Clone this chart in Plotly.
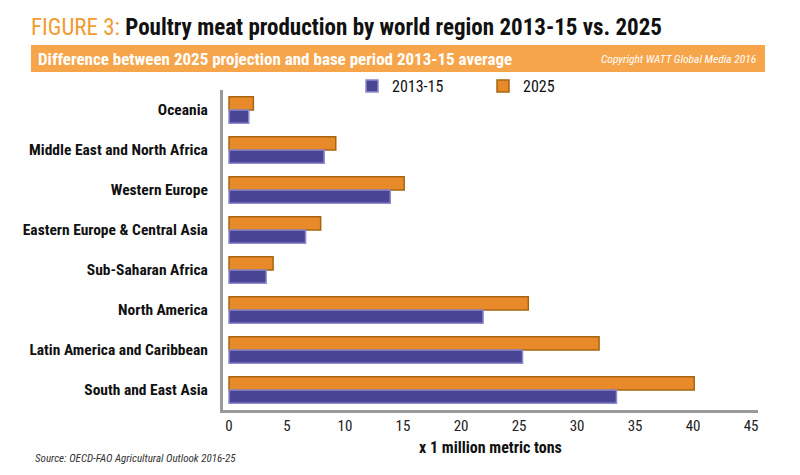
import plotly.graph_objects as go

regions = ["Oceania", "Middle East and North Africa", "Western Europe",
           "Eastern Europe & Central Asia", "Sub-Saharan Africa", "North America",
           "Latin America and Caribbean", "South and East Asia"]
base_2013_15 = [1.7, 8.2, 13.9, 6.6, 3.2, 21.9, 25.3, 33.4]
proj_2025 = [2.1, 9.2, 15.1, 7.9, 3.8, 25.8, 31.9, 40.1]
x_ticks = [0, 5, 10, 15, 20, 25, 30, 35, 40, 45]

L, R, T, B = 215, 50, 82, 73
W, H = 800, 475
pw, ph = W - L - R, H - T - B
def px(x): return (x - L) / pw
def py(y): return (H - B - y) / ph

font_main = "Roboto Condensed, DejaVu Sans Condensed, Liberation Sans, Arial"

fig = go.Figure()
fig.add_trace(go.Bar(
    y=regions, x=proj_2025, name="2025", orientation="h",
    marker=dict(color="#E8892A", line=dict(color="#A8650F", width=1.5))))
fig.add_trace(go.Bar(
    y=regions, x=base_2013_15, name="2013-15", orientation="h",
    marker=dict(color="#4A4494", line=dict(color="#8D89CC", width=1.5))))

fig.update_layout(
    width=W, height=H,
    margin=dict(l=L, r=R, t=T, b=B, autoexpand=False),
    paper_bgcolor="white", plot_bgcolor="white",
    barmode="group", bargap=0.34, bargroupgap=0.0,
    font=dict(family=font_main, size=14, color="#111"),
    title=dict(
        text="<span style='color:#F39A32'>FIGURE 3:</span> <b>Poultry meat production by world region 2013-15 vs. 2025</b>",
        x=23 / W, xanchor="left", y=1 - 19 / H, yanchor="middle",
        font=dict(family=font_main, size=23, color="#111")),
    legend=dict(orientation="h", x=px(344), y=py(78), xanchor="left", yanchor="middle",
                traceorder="reversed",
                entrywidth=86, entrywidthmode="pixels", itemwidth=30,
                font=dict(size=16, color="#111"), bgcolor="rgba(0,0,0,0)"),
    xaxis=dict(range=[-0.52, 45.6], tickvals=x_ticks, showgrid=False, zeroline=False,
               showline=True, linecolor="#9A9A9A", linewidth=3, automargin=False,
               tickfont=dict(size=15, color="#222"), ticks="",
               title=dict(text="<b>x 1 million metric tons</b>", font=dict(size=16, color="#111"), standoff=8)),
    yaxis=dict(categoryorder="array", categoryarray=regions, autorange="reversed",
               showgrid=False, zeroline=False, showline=True, linecolor="#9A9A9A", linewidth=3,
               ticks="", ticklabelstandoff=9, automargin=False,
               tickfont=dict(size=15.5, color="#111", weight="bold")),
    shapes=[dict(type="rect", xref="paper", yref="paper",
                 x0=px(23), x1=px(757), y0=py(64), y1=py(37),
                 fillcolor="#F7A54A", line=dict(width=0), layer="below")],
    annotations=[
        dict(text="<b>Difference between 2025 projection and base period 2013-15 average</b>",
             xref="paper", yref="paper", x=px(28), y=py(50.5), xanchor="left", yanchor="middle",
             showarrow=False, font=dict(family=font_main, size=17, color="white")),
        dict(text="<i>Copyright WATT Global Media 2016</i>",
             xref="paper", yref="paper", x=px(750), y=py(50.5), xanchor="right", yanchor="middle",
             showarrow=False, font=dict(family=font_main, size=11.5, color="white")),
        dict(text="<i>Source: OECD-FAO Agricultural Outlook 2016-25</i>",
             xref="paper", yref="paper", x=px(25), y=py(450), xanchor="left", yanchor="middle",
             showarrow=False, font=dict(family=font_main, size=11, color="#333")),
    ],
)

fig.write_html("out.html")
